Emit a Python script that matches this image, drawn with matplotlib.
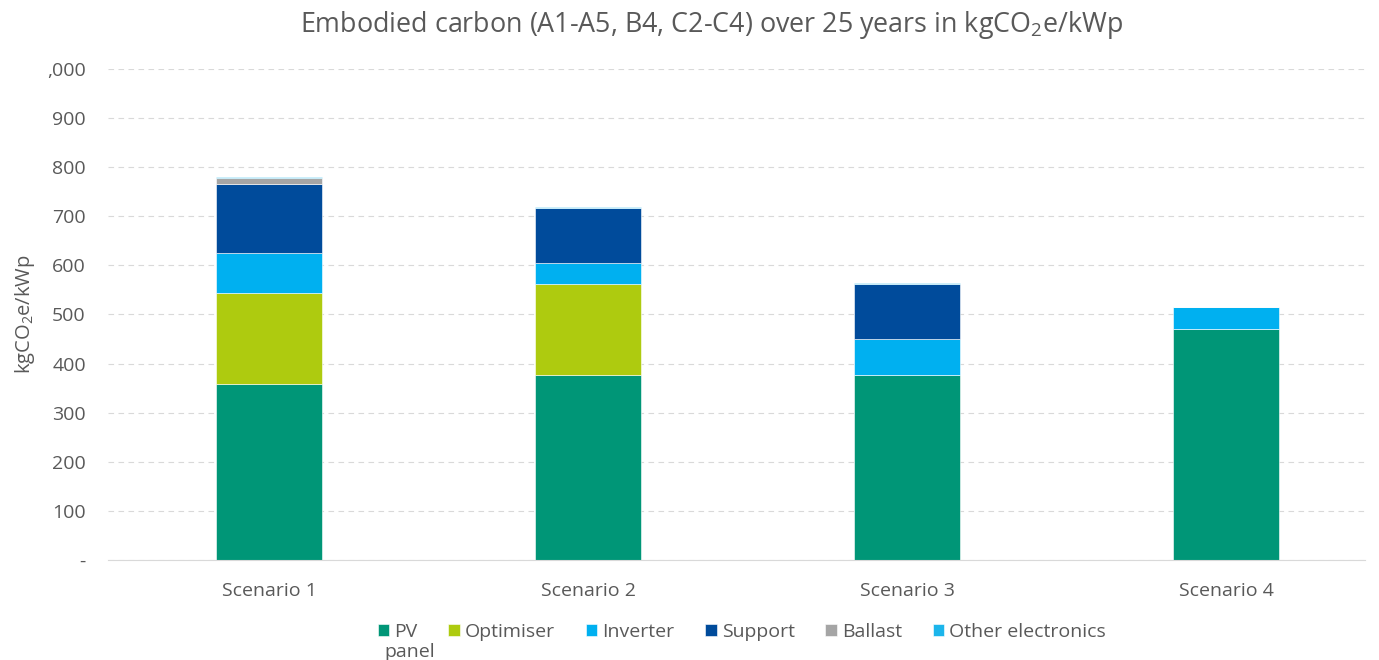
import matplotlib.pyplot as plt
import numpy as np

plt.rcParams['font.family'] = ['Open Sans', 'DejaVu Sans']
plt.rcParams['mathtext.fontset'] = 'custom'
plt.rcParams['mathtext.rm'] = 'Open Sans'
plt.rcParams['mathtext.it'] = 'Open Sans'

# data
scenarios = ['Scenario 1', 'Scenario 2', 'Scenario 3', 'Scenario 4']
components = ['PV', 'Optimiser', 'Inverter', 'Support', 'Ballast', 'Other electronics']
pv_panel = [359, 377, 377, 471]
optimiser = [185, 185, 0, 0]
inverter = [82, 43, 73, 44]
support = [139, 112, 112, 0]
ballast = [13, 0, 0, 0]
other_electronics = [2, 2, 2, 1]
colors = ['#009677', '#AECB0F', '#00B0F0', '#004B9B', '#A5A5A5', '#1CB5EB']

yticks = [0, 100, 200, 300, 400, 500, 600, 700, 800, 900, 1000]
ytick_labels = ['-', '100', '200', '300', '400', '500', '600', '700', '800', '900', ',000']

series = [pv_panel, optimiser, inverter, support, ballast, other_electronics]
grey = '#595959'

fig = plt.figure(figsize=(13.79, 6.6), dpi=100)
ax = fig.add_axes([0.0783, 0.1515, 0.9117, 0.744])

x = np.arange(len(scenarios))
bottom = np.zeros(len(scenarios))
for vals, name, c in zip(series, components, colors):
    ax.bar(x, vals, width=0.33, bottom=bottom, color=c, label=name,
           edgecolor='white', linewidth=0.4)
    bottom += np.array(vals)

ax.set_xlim(-0.505, 3.436)
ax.set_ylim(0, 1000)
ax.set_yticks(yticks)
ax.set_yticklabels(ytick_labels)
ax.set_xticks(x)
ax.set_xticklabels(scenarios)
ax.tick_params(axis='both', length=0, labelsize=14, colors=grey)
ax.tick_params(axis='y', pad=16)
ax.tick_params(axis='x', pad=16)

ax.grid(True, axis='y', color='#D9D9D9', linestyle=(0, (5, 4)), linewidth=0.8)
ax.set_axisbelow(True)
for s in ['top', 'right', 'left']:
    ax.spines[s].set_visible(False)
ax.spines['bottom'].set_color('#D9D9D9')

ax.set_ylabel('kgCO$_2$e/kWp', fontsize=14.5, color=grey, labelpad=7)
fig.text(0.5156, 0.962, 'Embodied carbon (A1-A5, B4, C2-C4) over 25 years in kgCO$_2$e/kWp',
         fontsize=19.4, color=grey, ha='center', va='center')

leg = fig.legend(loc='center', bbox_to_anchor=(0.538, 0.043), ncol=6,
                 frameon=False, fontsize=14, handlelength=0.6, handleheight=0.6,
                 handletextpad=0.25, columnspacing=1.58, labelcolor=grey)

# second line of the "PV panel" entry, wrapped under it as in the reference
fig.canvas.draw()
pv_text = leg.get_texts()[0]
bb = pv_text.get_window_extent().transformed(fig.transFigure.inverted())
fig.text(bb.x0 - 0.007, bb.y0 - 0.004, 'panel', fontsize=14, color=grey, ha='left', va='top')

fig.savefig('out.png', dpi=100)
